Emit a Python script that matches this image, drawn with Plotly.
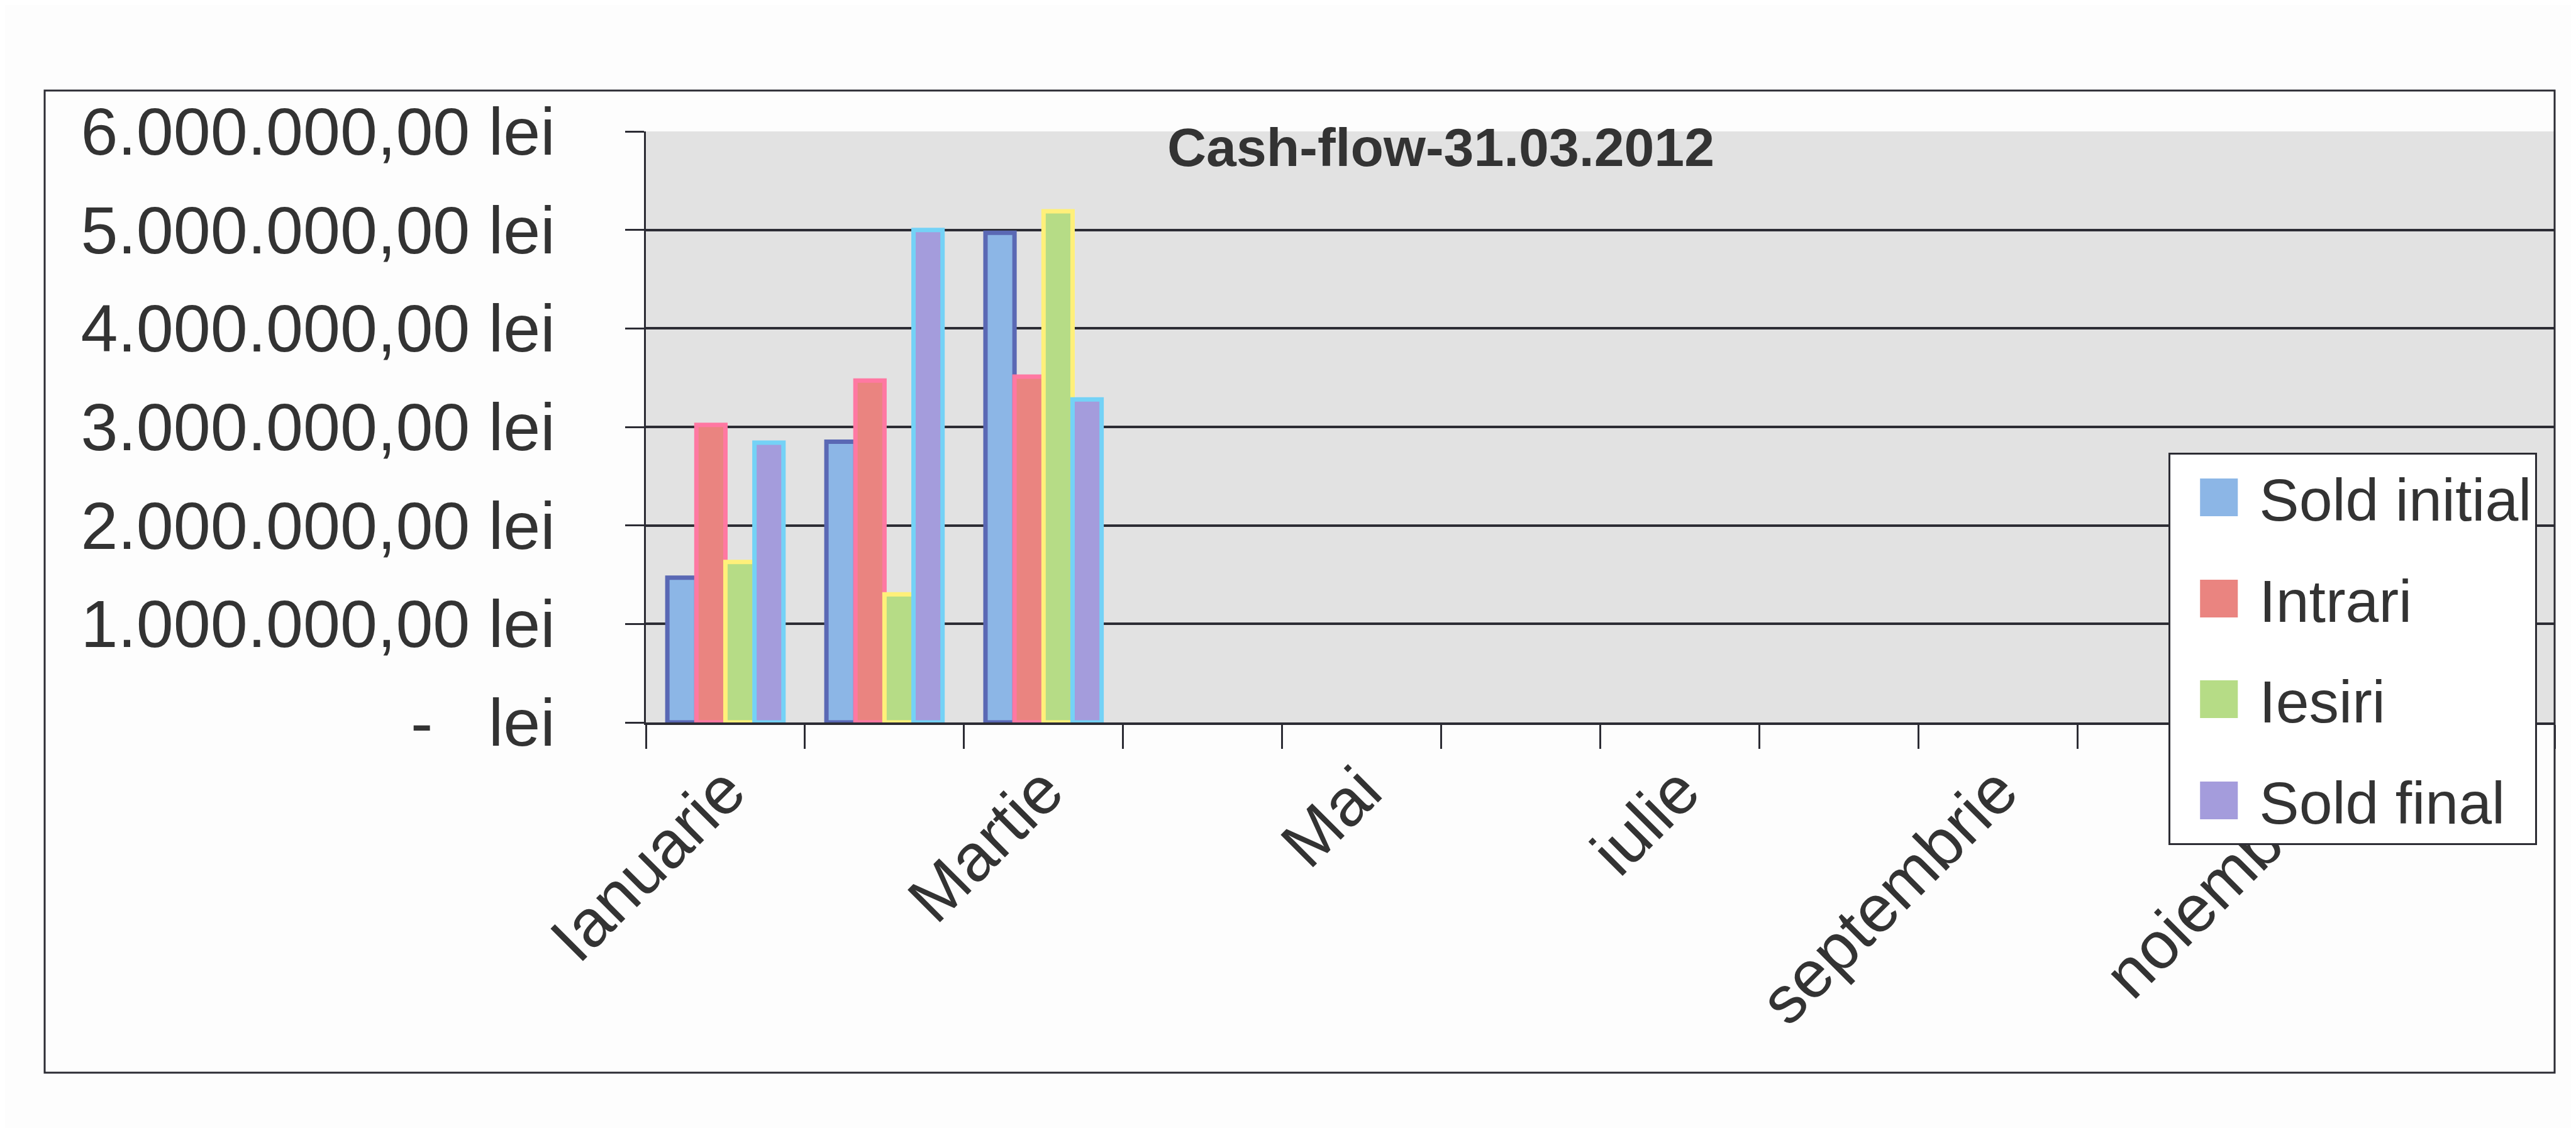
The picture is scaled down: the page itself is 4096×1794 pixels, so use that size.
import plotly.graph_objects as go

# ---- data ----
months = ["Ianuarie", "Februarie", "Martie", "Aprilie", "Mai", "Iunie",
          "iulie", "august", "septembrie", "octombrie", "noiembrie", "decembrie"]
shown_months = ["Ianuarie", "Martie", "Mai", "iulie", "septembrie", "noiembrie"]

sold_initial = [1470000, 2850000, 4970000]
intrari = [3020000, 3470000, 3510000]
iesiri = [1630000, 1300000, 5190000]
sold_final = [2840000, 5000000, 3280000]

series_names = ["Sold initial", "Intrari", "Iesiri", "Sold final"]
series_values = [sold_initial, intrari, iesiri, sold_final]
fill_colors = ["#8cb6e6", "#ea8480", "#b6dc86", "#a49cdc"]
line_colors = ["#5a68b4", "#ff78a2", "#fff07a", "#74d2f6"]

y_tickvals = [0, 1000000, 2000000, 3000000, 4000000, 5000000, 6000000]
y_ticktext = ["-\u00a0\u00a0\u00a0lei", "1.000.000,00 lei", "2.000.000,00 lei",
              "3.000.000,00 lei", "4.000.000,00 lei", "5.000.000,00 lei",
              "6.000.000,00 lei"]

title_text = "Cash-flow-31.03.2012"

# ---- figure ----
W, H = 4096, 1794
L, R, T, B = 1019, 42, 201, 653
FONT = "Liberation Sans, Arial, sans-serif"
TXT = "#333333"
DARK = "#2c2c34"

fig = go.Figure()
for name, vals, fc, lc in zip(series_names, series_values, fill_colors, line_colors):
    fig.add_trace(go.Bar(
        x=months[:len(vals)], y=vals, name=name, showlegend=False,
        marker=dict(color=fc, line=dict(color=lc, width=7)),
    ))

# legend entries (large colour squares as text glyphs)
for i, (name, fc) in enumerate(zip(series_names, fill_colors)):
    fig.add_trace(go.Scatter(
        x=[None], y=[None], mode="markers",
        marker=dict(size=1, color="rgba(0,0,0,0)"),
        name=f'<span style="color:{fc};font-size:124px">\u25a0</span> {name}',
        legendgroup=f"g{i}", showlegend=True, hoverinfo="skip",
    ))

ticktext_x = [m if m in shown_months else "" for m in months]

pw = W - L - R
ph = H - T - B


def px_x(X):
    return (X - L) / pw


def px_y(Y):
    return 1 - (Y - T) / ph


fig.update_layout(
    width=W, height=H,
    margin=dict(l=L, r=R, t=T, b=B, autoexpand=False),
    paper_bgcolor="#fdfdfd",
    plot_bgcolor="#e2e2e2",
    font=dict(family=FONT, color=TXT, size=106),
    barmode="group", bargap=0.27, bargroupgap=0.0,
    title=dict(text=title_text, x=2283 / W, xanchor="center",
               y=1 - 226 / H, yanchor="middle", yref="container",
               font=dict(family=FONT, size=86, color=TXT, weight="bold")),
    legend=dict(
        x=px_x(3440), y=px_y(712), xanchor="left", yanchor="top",
        bgcolor="#ffffff", bordercolor=DARK, borderwidth=3,
        font=dict(family=FONT, size=95, color=TXT),
        tracegroupgap=34, traceorder="grouped",
    ),
    xaxis=dict(
        type="category", categoryorder="array", categoryarray=months,
        range=[-0.5, len(months) - 0.5],
        tickmode="array", tickvals=months, ticktext=ticktext_x,
        tickson="boundaries", ticks="outside", ticklen=38, tickwidth=3,
        tickcolor=DARK, tickangle=-45,
        tickfont=dict(family=FONT, size=106, color=TXT),
        showline=True, linecolor=DARK, linewidth=4,
        showgrid=False, zeroline=False, fixedrange=True,
    ),
    yaxis=dict(
        range=[0, 6000000], tickmode="array", tickvals=y_tickvals,
        ticktext=y_ticktext, ticks="outside", ticklen=30, tickwidth=3,
        tickcolor=DARK, ticklabelstandoff=90,
        tickfont=dict(family=FONT, size=106, color=TXT),
        showline=True, linecolor=DARK, linewidth=3,
        showgrid=True, gridcolor=DARK, gridwidth=4,
        zeroline=False, fixedrange=True,
    ),
    shapes=[dict(
        type="rect", xref="paper", yref="paper",
        x0=px_x(63), x1=px_x(4054), y0=px_y(1698), y1=px_y(136),
        line=dict(color=DARK, width=3), fillcolor="rgba(0,0,0,0)", layer="below",
    )],
)

fig.write_html("out.html", include_plotlyjs=True, full_html=True,
               config={"displayModeBar": False, "responsive": False})
